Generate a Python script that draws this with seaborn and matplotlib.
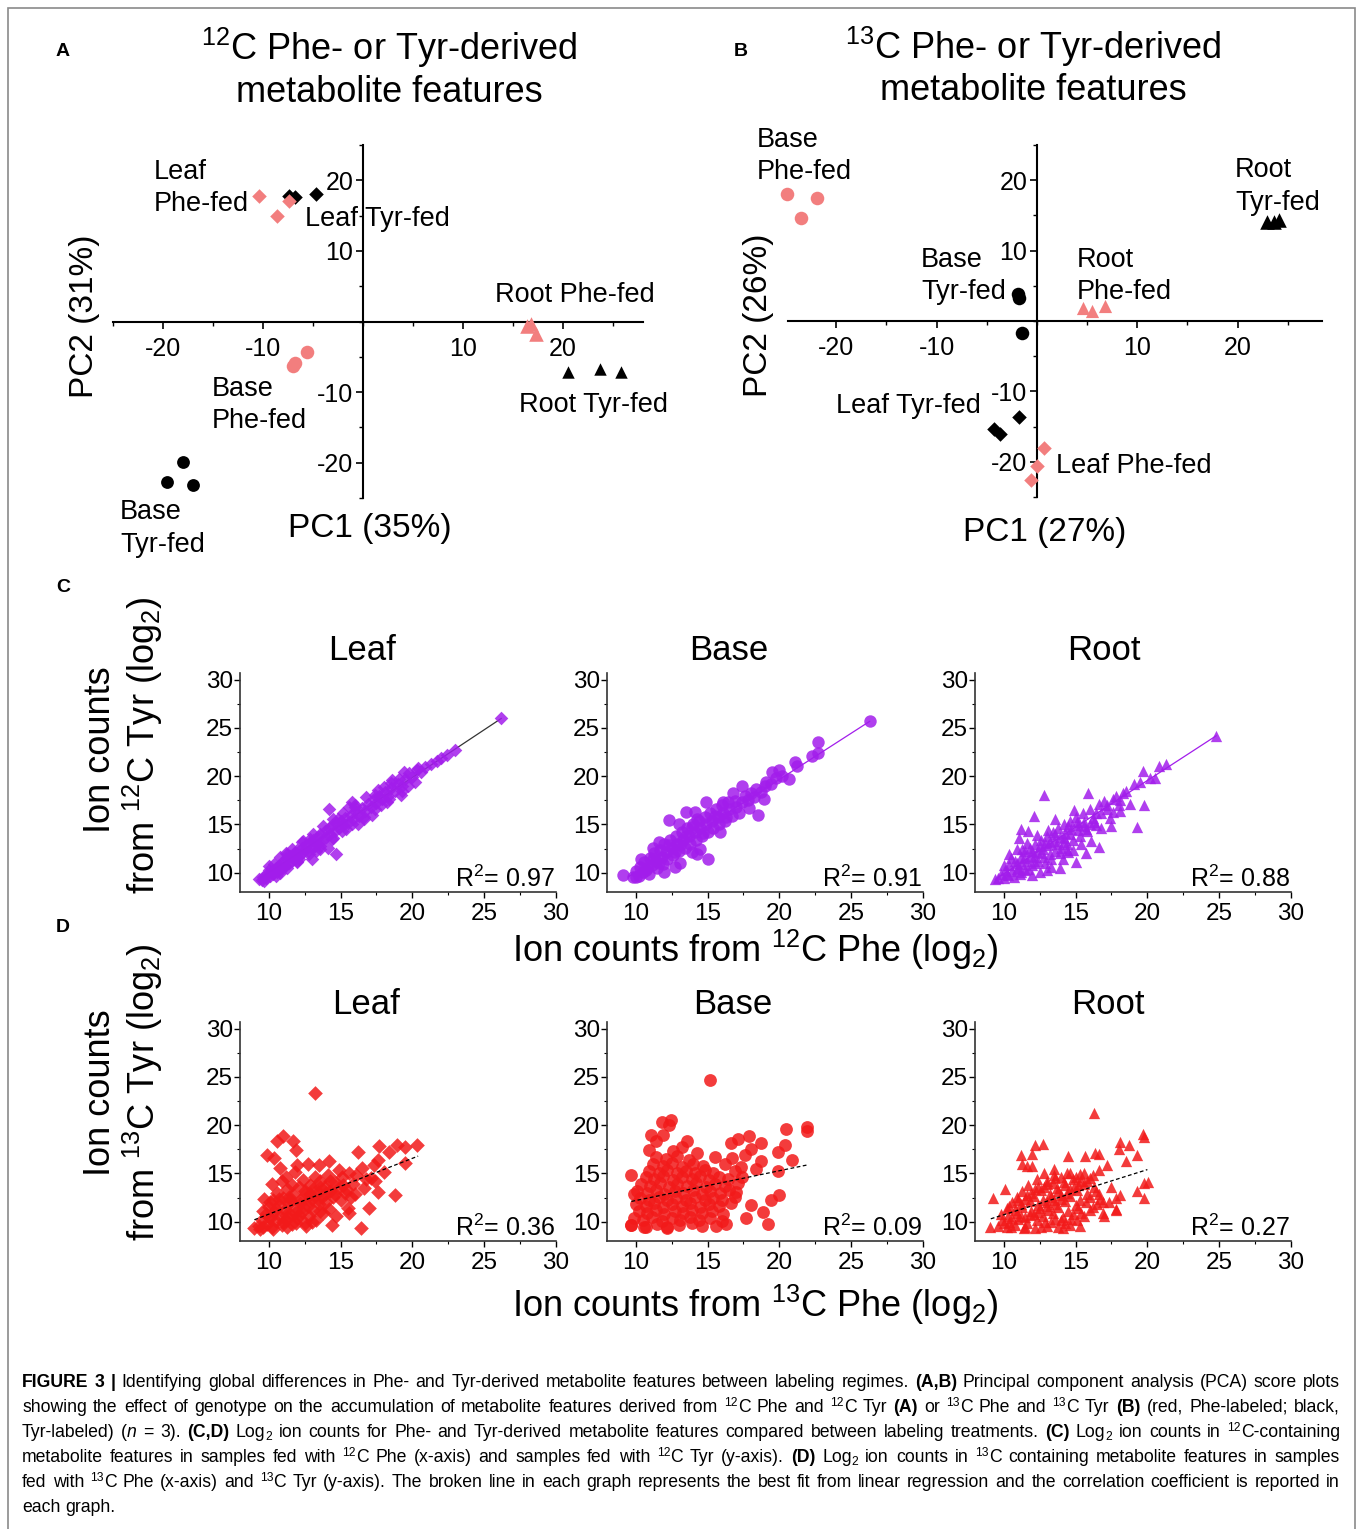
import matplotlib
matplotlib.use("Agg")
import matplotlib.pyplot as plt
import pandas as pd
import seaborn as sns
from matplotlib.patches import Rectangle
from matplotlib.ticker import MultipleLocator

sns.set_style("white")
plt.rcParams["font.family"] = ["Liberation Sans", "DejaVu Sans"]
plt.rcParams["axes.unicode_minus"] = False
plt.rcParams["mathtext.fontset"] = "custom"
plt.rcParams["mathtext.rm"] = "Liberation Sans"
plt.rcParams["mathtext.it"] = "Liberation Sans:italic"
plt.rcParams["mathtext.bf"] = "Liberation Sans:bold"
plt.rcParams.update({"text.color": "black", "xtick.color": "black", "ytick.color": "black",
                     "axes.edgecolor": "black", "xtick.bottom": True, "ytick.left": True})

# ---- PCA scores, panel A (12C) ----
a_leaf_phe = [(-10.4, 17.8), (-8.6, 15.0), (-7.4, 17.0)]
a_leaf_tyr = [(-7.4, 17.8), (-6.8, 17.7), (-4.7, 18.0)]
a_base_phe = [(-5.6, -4.3), (-7.0, -6.3), (-6.8, -5.9)]
a_base_tyr = [(-18.0, -19.9), (-19.65, -22.7), (-17.0, -23.2)]
a_root_phe = [(16.4, -0.6), (16.8, -0.4), (17.3, -1.7)]
a_root_tyr = [(20.5, -7.1), (23.7, -6.7), (25.8, -7.2)]

# ---- PCA scores, panel B (13C) ----
b_leaf_phe = [(0.66, -18.1), (0.03, -20.6), (-0.6, -22.6)]
b_leaf_tyr = [(-4.3, -15.3), (-3.7, -16.1), (-1.75, -13.7)]
b_base_phe = [(-24.9, 18.0), (-21.9, 17.5), (-23.5, 14.6)]
b_base_tyr = [(-1.9, 3.8), (-1.8, 3.3), (-1.5, -1.7)]
b_root_phe = [(4.6, 1.9), (5.5, 1.4), (6.8, 2.1)]
b_root_tyr = [(22.9, 14.1), (23.6, 14.0), (24.1, 14.3)]

# ---- panel C: 12C Phe (x) vs 12C Tyr (y), log2 ion counts ----
leaf12 = [(9.3, 9.3), (9.5, 9.2), (9.6, 9.6), (9.8, 9.4), (9.9, 9.9), (10.1, 9.7), (10.2, 10.2), (10.3, 9.9),
          (10.5, 10.5), (10.6, 10.1), (10.7, 10.8), (10.9, 10.4), (11.0, 11.1), (11.1, 10.7), (11.2, 11.5),
          (11.4, 11.0), (11.5, 11.7), (11.6, 11.2), (11.8, 12.0), (11.9, 11.5), (12.0, 12.4), (12.2, 11.8),
          (12.3, 12.6), (12.4, 12.1), (12.6, 12.9), (12.7, 12.3), (12.8, 13.1), (13.0, 12.6), (13.1, 13.4),
          (13.2, 12.8), (13.4, 13.7), (13.5, 13.1), (13.6, 14.0), (13.8, 13.4), (13.9, 14.3), (14.0, 13.7),
          (14.2, 14.6), (14.3, 14.0), (14.4, 14.9), (14.6, 14.3), (14.7, 15.2), (14.9, 14.6), (15.0, 15.4),
          (15.2, 14.9), (15.3, 15.7), (15.5, 15.2), (15.7, 16.0), (15.9, 15.6), (16.1, 16.3), (16.3, 15.9),
          (16.5, 16.7), (16.7, 16.4), (16.9, 17.1), (17.1, 16.8), (17.3, 17.6), (17.5, 17.2), (17.7, 18.0),
          (17.9, 17.6), (18.1, 18.4), (18.3, 18.0), (18.5, 18.8), (18.8, 18.5), (19.0, 19.2), (19.3, 19.0),
          (19.5, 19.7), (19.8, 20.3), (20.0, 19.9), (20.3, 20.6), (20.6, 20.4), (20.9, 21.0), (21.3, 21.3),
          (21.7, 21.6), (22.0, 21.9), (22.4, 22.2), (23.0, 22.7), (26.2, 26.0), (14.2, 16.6), (14.7, 11.9),
          (13.0, 11.4), (14.1, 12.6), (19.7, 19.0), (18.5, 19.3), (17.2, 16.0), (12.4, 13.3), (11.2, 12.0),
          (15.6, 16.8), (16.2, 15.1), (19.2, 18.1), (18.0, 18.9), (15.8, 17.3), (10.4, 10.9), (13.6, 12.5),
          (12.0, 11.1), (17.8, 17.0), (20.4, 20.9), (10.0, 10.3), (10.8, 10.0), (11.3, 11.9), (12.1, 11.4),
          (12.9, 13.5), (13.3, 12.3), (14.5, 13.6), (14.8, 15.6), (15.4, 14.5), (16.0, 16.8), (16.6, 15.6),
          (17.4, 18.1), (18.2, 17.3), (19.1, 19.7), (9.7, 9.1), (10.0, 10.7), (10.8, 11.6), (11.6, 12.5),
          (12.3, 13.2), (13.1, 14.0), (13.8, 14.8), (14.5, 15.6), (15.2, 16.2), (16.0, 17.0), (16.8, 17.8),
          (17.6, 18.6), (18.6, 19.6), (19.4, 20.4), (10.5, 9.7), (11.3, 10.5), (12.0, 11.2), (12.8, 11.9),
          (13.6, 12.8), (14.4, 13.5), (15.1, 14.3), (15.8, 15.0), (16.6, 15.8), (17.4, 16.6), (18.4, 17.6),
          (19.3, 18.5), (20.2, 19.4)]
base12 = [(9.1, 9.8), (9.8, 9.6), (10.0, 10.2), (10.2, 9.7), (10.3, 10.6), (10.5, 10.1), (10.6, 11.1),
          (10.8, 10.5), (10.9, 9.9), (11.0, 11.5), (11.1, 10.8), (11.3, 12.0), (11.4, 11.2), (11.5, 10.5),
          (11.7, 12.4), (11.8, 11.6), (11.9, 10.9), (12.0, 13.0), (12.1, 12.1), (12.2, 11.4), (12.4, 13.4),
          (12.5, 12.6), (12.6, 11.8), (12.7, 10.6), (12.8, 13.8), (12.9, 13.0), (13.0, 12.2), (13.2, 14.2),
          (13.3, 13.4), (13.4, 12.6), (13.6, 14.6), (13.7, 13.8), (13.8, 13.0), (13.9, 12.1), (14.0, 15.0),
          (14.1, 14.2), (14.2, 13.4), (14.4, 15.4), (14.5, 14.6), (14.5, 12.5), (14.6, 13.8), (14.8, 15.8),
          (14.9, 15.0), (15.0, 14.2), (15.0, 11.4), (15.2, 16.2), (15.3, 15.4), (15.4, 14.6), (15.6, 16.6),
          (15.7, 15.8), (15.8, 15.0), (16.0, 17.0), (16.1, 16.2), (16.2, 15.4), (16.4, 17.3), (16.5, 16.6),
          (16.7, 15.9), (16.9, 17.4), (17.0, 16.8), (17.2, 16.2), (17.4, 17.3), (17.4, 19.0), (17.6, 17.9),
          (17.8, 17.5), (18.0, 18.3), (18.2, 17.8), (18.4, 18.7), (18.5, 16.0), (18.7, 18.4), (19.0, 19.0),
          (19.1, 19.4), (19.4, 19.2), (19.5, 20.4), (19.8, 19.8), (20.0, 20.6), (20.2, 20.0), (20.7, 19.7),
          (21.1, 21.5), (21.2, 21.1), (22.3, 22.1), (22.7, 22.4), (22.7, 23.5), (26.3, 25.7), (12.3, 15.5),
          (13.5, 16.3), (14.1, 16.3), (14.9, 17.3), (16.1, 17.3), (13.1, 11.0), (14.3, 11.9), (11.2, 12.6),
          (10.4, 11.4), (17.9, 16.7), (18.9, 17.6), (15.9, 14.2), (13.0, 15.1), (16.8, 18.3), (12.0, 10.1),
          (10.0, 9.6), (11.6, 13.2), (10.7, 10.3), (11.6, 11.0), (12.3, 12.9), (13.1, 12.9), (13.9, 14.7),
          (14.7, 14.1), (15.5, 15.9), (16.3, 15.8), (12.7, 12.1), (11.2, 11.4), (13.5, 13.8), (14.3, 15.6)]
root12 = [(9.4, 9.3), (9.6, 9.5), (9.8, 9.9), (10.0, 9.4), (10.1, 10.3), (10.3, 9.8), (10.4, 10.8),
          (10.6, 10.2), (10.7, 9.6), (10.8, 11.2), (11.0, 10.5), (11.1, 9.9), (11.2, 11.6), (11.3, 10.9),
          (11.5, 12.2), (11.6, 11.2), (11.7, 10.4), (11.8, 12.6), (11.9, 11.7), (12.0, 10.8), (12.2, 13.0),
          (12.3, 12.1), (12.4, 11.2), (12.5, 10.1), (12.6, 13.4), (12.7, 12.5), (12.8, 11.6), (13.0, 13.8),
          (13.1, 12.9), (13.2, 11.9), (13.3, 10.6), (13.4, 14.2), (13.5, 13.3), (13.6, 12.3), (13.8, 14.6),
          (13.9, 13.7), (14.0, 12.6), (14.1, 11.4), (14.2, 15.0), (14.3, 14.1), (14.4, 13.0), (14.6, 15.4),
          (14.7, 14.5), (14.8, 13.4), (15.0, 11.15), (15.0, 15.8), (15.2, 14.9), (15.3, 13.8), (15.5, 16.2),
          (15.6, 15.3), (15.8, 14.3), (15.9, 18.3), (16.0, 16.6), (16.2, 15.7), (16.4, 14.9), (16.6, 17.1),
          (16.6, 12.7), (16.8, 16.2), (17.0, 17.4), (17.2, 16.6), (17.4, 15.7), (17.6, 17.6), (17.8, 18.0),
          (18.0, 17.0), (18.3, 18.3), (18.5, 18.5), (18.8, 17.1), (19.1, 19.2), (19.3, 14.75), (19.5, 19.4),
          (19.7, 20.5), (19.8, 17.0), (20.2, 19.8), (20.5, 19.8), (20.8, 21.1), (21.3, 21.3), (24.8, 24.2),
          (12.8, 18.1), (12.1, 15.9), (11.2, 14.5), (11.7, 14.3), (11.05, 13.6), (10.4, 11.9), (13.6, 15.6),
          (14.9, 16.5), (17.5, 14.8), (16.1, 13.3), (12.3, 13.9), (13.9, 10.5), (15.7, 12.0), (10.9, 12.5),
          (18.1, 16.4), (14.5, 12.1), (12.0, 9.8), (10.2, 9.9), (10.9, 10.4), (11.4, 11.5), (12.1, 11.6),
          (12.6, 12.0), (13.2, 13.2), (13.7, 13.0), (14.2, 13.6), (14.6, 14.0), (15.2, 14.4), (15.6, 14.8),
          (16.3, 15.3), (11.5, 10.3), (12.9, 11.0), (14.4, 12.4), (10.0, 10.8), (10.5, 11.5), (10.9, 11.0),
          (11.3, 12.5), (11.6, 13.1), (12.0, 12.3), (12.2, 11.0), (12.5, 12.8), (12.9, 13.1), (13.1, 14.4),
          (13.3, 11.4), (13.6, 14.0), (13.9, 12.0), (14.2, 13.2), (14.5, 14.8), (14.8, 12.4), (15.1, 15.3),
          (15.4, 13.0), (15.7, 14.5), (16.0, 15.0), (16.4, 16.2), (16.8, 14.6), (17.2, 17.0), (17.6, 16.3),
          (18.1, 17.5), (13.0, 10.3), (11.2, 10.1)]

# ---- panel D: 13C Phe (x) vs 13C Tyr (y), log2 ion counts ----
leaf13 = [(9.0, 9.3), (9.3, 9.6), (9.5, 10.2), (9.6, 9.4), (9.8, 10.8), (9.9, 9.8), (10.0, 11.5), (10.1, 10.4),
          (10.2, 9.5), (10.3, 12.2), (10.4, 11.0), (10.5, 10.1), (10.6, 13.0), (10.7, 11.7), (10.8, 10.6),
          (10.9, 9.7), (11.0, 12.5), (11.1, 11.2), (11.2, 14.6), (11.2, 10.2), (11.3, 13.4), (11.4, 11.9),
          (11.5, 10.8), (11.6, 9.8), (11.7, 12.8), (11.8, 15.2), (11.9, 11.4), (12.0, 10.4), (12.1, 13.6),
          (12.2, 12.2), (12.3, 11.0), (12.4, 14.3), (12.5, 9.9), (12.6, 12.9), (12.7, 11.6), (12.8, 10.6),
          (12.9, 13.8), (13.0, 12.4), (13.1, 11.2), (13.2, 14.6), (13.3, 10.2), (13.4, 13.1), (13.5, 11.8),
          (13.6, 14.2), (13.7, 12.6), (13.8, 10.9), (13.9, 13.6), (14.0, 12.0), (14.1, 14.8), (14.2, 11.3),
          (14.3, 13.2), (14.4, 9.7), (14.5, 12.6), (14.6, 14.1), (14.7, 10.6), (14.8, 13.5), (15.0, 12.2),
          (15.1, 14.6), (15.3, 13.0), (15.5, 11.4), (15.6, 15.1), (15.6, 10.9), (15.7, 12.6), (15.9, 13.9),
          (16.1, 14.8), (16.2, 17.2), (16.4, 9.3), (16.5, 15.6), (16.8, 14.4), (17.0, 11.4), (17.1, 14.5),
          (17.3, 15.9), (17.6, 16.4), (17.7, 17.8), (18.0, 15.2), (18.4, 17.2), (18.8, 12.8), (18.95, 17.9),
          (19.5, 17.7), (19.5, 16.1), (20.3, 17.9), (13.2, 23.3), (11.0, 18.9), (10.6, 18.35), (11.7, 18.35),
          (11.9, 17.4), (9.9, 16.9), (10.4, 16.6), (12.7, 16.0), (14.2, 16.3), (13.5, 15.9), (16.0, 12.9),
          (10.8, 15.6), (12.0, 15.9), (10.2, 13.9), (9.7, 12.4), (11.3, 9.5), (12.6, 9.6), (14.9, 15.4),
          (17.6, 13.1), (10.5, 11.3), (11.0, 10.0), (11.8, 10.9), (12.4, 11.5), (13.0, 10.0), (10.0, 10.5),
          (11.4, 12.6), (12.9, 12.9), (13.6, 11.1), (14.6, 12.9), (9.4, 9.2), (10.3, 9.2), (11.9, 9.9),
          (15.2, 13.8), (16.6, 13.5), (17.4, 14.2), (10.9, 14.2), (9.6, 11.1), (10.7, 12.4), (11.5, 12.2),
          (12.2, 11.9), (12.8, 12.2), (13.4, 12.4), (14.0, 13.0), (11.6, 13.8), (12.5, 13.2), (13.1, 13.4),
          (10.1, 12.0), (11.2, 10.7), (12.1, 10.7), (13.6, 13.6), (14.3, 14.2), (15.4, 13.4)]
base13 = [(9.7, 9.7), (10.6, 9.5), (11.5, 9.8), (12.2, 9.4), (13.0, 9.7), (13.9, 9.9), (14.6, 9.6),
          (9.9, 10.4), (10.5, 10.2), (11.1, 10.5), (11.8, 10.1), (12.5, 10.4), (13.1, 10.2), (13.8, 10.5),
          (14.4, 10.2), (15.2, 10.4), (16.0, 10.1), (10.2, 11.1), (10.8, 10.9), (11.4, 11.2), (12.0, 10.8),
          (12.7, 11.1), (13.3, 10.9), (13.9, 11.2), (14.6, 10.9), (15.3, 11.1), (16.1, 10.8), (10.0, 11.8),
          (10.7, 11.6), (11.3, 11.9), (11.9, 11.5), (12.5, 11.8), (13.2, 11.6), (13.8, 11.9), (14.5, 11.5),
          (15.1, 11.8), (15.8, 11.6), (16.6, 11.9), (10.3, 12.5), (10.9, 12.3), (11.6, 12.6), (12.2, 12.2),
          (12.8, 12.5), (13.5, 12.3), (14.1, 12.6), (14.8, 12.2), (15.4, 12.5), (16.0, 12.3), (16.9, 12.6),
          (10.1, 13.2), (10.8, 13.0), (11.4, 13.3), (12.0, 12.9), (12.7, 13.2), (13.3, 13.0), (14.0, 13.3),
          (14.6, 12.9), (15.2, 13.2), (15.9, 13.0), (16.5, 13.3), (10.4, 13.9), (11.0, 13.7), (11.7, 14.0),
          (12.3, 13.6), (12.9, 13.9), (13.6, 13.7), (14.2, 14.0), (14.9, 13.6), (15.5, 13.9), (16.2, 13.7),
          (17.1, 14.0), (10.7, 14.6), (11.3, 14.4), (11.9, 14.7), (12.6, 14.3), (13.2, 14.6), (13.9, 14.4),
          (14.5, 14.7), (15.1, 14.3), (15.8, 14.6), (16.4, 14.4), (10.9, 15.3), (11.6, 15.1), (12.2, 15.4),
          (12.9, 15.0), (13.5, 15.3), (14.1, 15.1), (14.8, 15.4), (15.4, 15.0), (16.9, 15.3), (11.2, 16.0),
          (11.9, 15.8), (12.5, 16.1), (13.2, 15.7), (14.0, 16.0), (14.7, 15.8), (16.2, 16.0), (17.3, 15.7),
          (11.4, 16.7), (12.1, 16.5), (12.9, 16.8), (13.7, 16.4), (16.7, 16.6), (15.2, 24.7), (11.8, 20.35),
          (12.45, 20.5), (12.3, 20.0), (11.05, 19.0), (11.9, 19.0), (11.4, 18.4), (13.6, 18.4), (13.2, 17.7),
          (16.6, 18.2), (17.1, 18.6), (17.9, 18.9), (18.7, 18.2), (18.0, 17.5), (19.9, 17.2), (20.4, 17.9),
          (20.45, 19.6), (21.9, 19.8), (21.9, 19.4), (20.85, 16.4), (19.9, 15.3), (18.7, 16.3), (20.0, 12.8),
          (19.4, 12.3), (18.85, 11.05), (19.2, 9.75), (17.65, 10.35), (18.0, 11.75), (10.7, 9.5), (9.65, 9.65),
          (12.2, 9.3), (17.4, 14.6), (17.0, 13.1), (18.4, 15.5), (10.9, 17.4), (12.6, 17.3), (14.3, 17.1),
          (15.5, 16.7), (17.6, 16.9), (16.3, 9.8), (15.6, 9.6), (9.9, 12.9), (9.7, 14.8)]
root13 = [(9.6, 9.6), (10.2, 9.4), (10.8, 9.7), (11.5, 9.5), (12.2, 9.3), (13.0, 9.6), (13.8, 9.4), (14.6, 9.7),
          (9.9, 10.2), (10.4, 10.0), (11.0, 10.3), (11.6, 9.9), (12.3, 10.2), (12.9, 10.0), (13.6, 10.3),
          (14.3, 9.9), (15.1, 10.2), (9.8, 10.8), (10.3, 10.6), (10.9, 10.9), (11.5, 10.5), (12.1, 10.8),
          (12.7, 10.6), (13.4, 10.9), (14.1, 10.5), (14.8, 10.8), (15.6, 10.6), (16.9, 10.9), (10.2, 11.4),
          (10.8, 11.2), (11.3, 11.5), (11.9, 11.1), (12.5, 11.4), (13.1, 11.2), (13.8, 11.5), (14.5, 11.1),
          (15.2, 11.4), (16.0, 11.2), (17.8, 11.3), (10.6, 12.0), (11.2, 11.8), (11.8, 12.1), (12.4, 11.7),
          (13.0, 12.0), (13.6, 11.8), (14.3, 12.1), (15.0, 11.7), (15.7, 12.0), (16.5, 11.8), (10.9, 12.6),
          (11.5, 12.4), (12.1, 12.7), (12.7, 12.3), (13.3, 12.6), (14.0, 12.4), (14.6, 12.7), (15.3, 12.3),
          (16.0, 12.6), (16.7, 12.4), (17.8, 12.5), (11.3, 13.2), (11.9, 13.0), (12.6, 13.3), (13.2, 12.9),
          (13.8, 13.2), (14.4, 13.0), (15.1, 13.3), (15.8, 12.9), (16.4, 13.2), (11.7, 13.8), (12.4, 13.6),
          (13.0, 13.9), (13.7, 13.5), (14.3, 13.8), (14.9, 13.6), (15.6, 13.9), (16.3, 13.6), (12.3, 14.4),
          (13.0, 14.2), (13.6, 14.5), (14.2, 14.1), (14.8, 14.4), (15.4, 14.2), (16.0, 14.5), (12.8, 15.0),
          (13.5, 14.8), (14.4, 15.1), (15.3, 14.9), (16.3, 21.3), (19.7, 19.1), (19.8, 18.8), (18.1, 18.3),
          (18.7, 17.9), (18.0, 17.5), (19.3, 16.9), (16.35, 17.1), (16.6, 17.0), (15.65, 16.85), (12.0, 17.0),
          (12.7, 18.1), (12.2, 17.95), (11.2, 16.9), (11.3, 16.0), (14.5, 16.85), (19.8, 14.0), (20.05, 14.1),
          (19.3, 13.2), (19.75, 12.5), (17.8, 11.25), (16.9, 12.0), (9.25, 12.5), (9.05, 9.45), (10.1, 13.4),
          (11.6, 15.8), (12.0, 15.8), (13.5, 15.5), (17.2, 15.9), (18.5, 16.3), (17.0, 10.6), (15.3, 9.6),
          (14.1, 9.3), (10.0, 9.9), (10.6, 10.4), (11.2, 10.6), (11.8, 10.7), (12.4, 11.0), (13.0, 11.6),
          (13.5, 12.2), (14.0, 12.8), (14.6, 13.4), (15.2, 13.8), (15.8, 14.2), (10.4, 11.6), (11.0, 12.2),
          (11.6, 12.8), (12.2, 13.4), (12.8, 13.6), (13.4, 14.0), (14.0, 14.6), (14.6, 15.0), (15.0, 14.6),
          (15.6, 15.1), (16.2, 14.8), (16.6, 15.4), (10.5, 9.4), (11.4, 9.3), (12.6, 9.5), (13.3, 10.0),
          (14.0, 10.2), (14.7, 10.3), (15.4, 10.9), (16.2, 11.5), (16.6, 12.9), (17.3, 12.0), (17.5, 13.6),
          (18.1, 12.8)]

# regression lines (end points) and R2 values
fit12_x = [[9.3, 26.2], [9.5, 26.3], [9.4, 24.8]]
fit12_y = [[9.3, 26.0], [9.6, 25.7], [9.3, 24.2]]
fit13_x = [[9.0, 20.4], [9.7, 22.0], [9.1, 20.0]]
fit13_y = [[10.2, 16.8], [12.1, 15.9], [10.3, 15.4]]
r2_12 = ["0.97", "0.91", "0.88"]
r2_13 = ["0.36", "0.09", "0.27"]
tissues = ["Leaf", "Base", "Root"]

W, H = 1358, 1529
fig = plt.figure(figsize=(W / 100, H / 100), dpi=100)
fig.patch.set_facecolor("white")

PINK = "#F27E7E"
PURPLE = "#A21DEB"
RED = "#F21A1A"


def box(l, t, r, b):
    return [l / W, 1 - b / H, (r - l) / W, (b - t) / H]


def put(x, y, s, **kw):
    kw.setdefault("va", "center")
    kw.setdefault("ha", "center")
    return fig.text(x / W, 1 - y / H, s, **kw)


def pca_panel(rect, xlim, groups):
    ax = fig.add_axes(rect)
    ax.patch.set_alpha(0)
    for pts, mk, col, sz in groups:
        df = pd.DataFrame(pts, columns=["pc1", "pc2"])
        sns.scatterplot(data=df, x="pc1", y="pc2", marker=mk, color=col, s=sz,
                        linewidth=0, ax=ax, zorder=3, clip_on=False)
    ax.set(xlim=xlim, ylim=(-25, 25), xlabel="", ylabel="")
    ax.spines[["top", "right"]].set_visible(False)
    for side in ("left", "bottom"):
        ax.spines[side].set_position(("data", 0))
        ax.spines[side].set_linewidth(1.5)
    ax.set_xticks([-20, -10, 10, 20])
    ax.set_yticks([-20, -10, 10, 20])
    ax.xaxis.set_minor_locator(MultipleLocator(5))
    ax.yaxis.set_minor_locator(MultipleLocator(5))
    ax.tick_params(which="major", length=5, width=1.2, labelsize=18, direction="out")
    ax.tick_params(axis="x", which="major", pad=6)
    ax.tick_params(axis="y", which="major", pad=2)
    ax.tick_params(which="minor", length=3, width=1.0, direction="out")
    return ax


def scatter_panel(rect, pts, mk, col, sz, fx, fy, line_col, dashed, r2):
    ax = fig.add_axes(rect)
    ax.patch.set_alpha(0)
    df = pd.DataFrame(pts, columns=["phe", "tyr"])
    sns.scatterplot(data=df, x="phe", y="tyr", marker=mk, color=col, s=sz,
                    linewidth=0, alpha=0.85, ax=ax, zorder=2)
    # solid fits sit under the cloud, broken fits are drawn over it
    sns.lineplot(x=fx, y=fy, color=line_col, linewidth=0.9, ax=ax, zorder=3 if dashed else 1)
    if dashed:
        ax.lines[-1].set_linestyle((0, (3, 2)))
    ax.set(xlim=(8, 30), ylim=(8, 30.7), xlabel="", ylabel="")
    ax.set_xticks([10, 15, 20, 25, 30])
    ax.set_yticks([10, 15, 20, 25, 30])
    ax.xaxis.set_minor_locator(MultipleLocator(2.5))
    ax.yaxis.set_minor_locator(MultipleLocator(2.5))
    ax.spines[["top", "right"]].set_visible(False)
    for side in ("left", "bottom"):
        ax.spines[side].set_linewidth(1.2)
        ax.spines[side].set_color("#333333")
    ax.tick_params(which="major", length=4, width=1.0, labelsize=17.5, direction="out")
    ax.tick_params(axis="x", which="major", pad=4)
    ax.tick_params(axis="y", which="major", pad=1)
    ax.tick_params(which="minor", length=2.5, width=0.8, direction="out")
    ax.text(29.9, 8.5, "R$^2$= " + r2, ha="right", va="baseline", fontsize=18)
    return ax


# ---- A ----
pca_panel(box(113, 145, 643, 498), (-25, 28), [
    (a_leaf_tyr, "D", "black", 55), (a_leaf_phe, "D", PINK, 55),
    (a_base_tyr, "o", "black", 85), (a_base_phe, "o", PINK, 95),
    (a_root_tyr, "^", "black", 80), (a_root_phe, "^", PINK, 110)])
# ---- B ----
pca_panel(box(788, 145, 1322, 497), (-24.8, 28.4), [
    (b_leaf_tyr, "D", "black", 55), (b_leaf_phe, "D", PINK, 55),
    (b_base_tyr, "o", "black", 95), (b_base_phe, "o", PINK, 95),
    (b_root_tyr, "^", "black", 110), (b_root_phe, "^", PINK, 90)])

lab = dict(fontsize=19.5, ha="left")
for x, y, s in [(154, 172, "Leaf"), (154, 204, "Phe-fed"), (305, 219, "Leaf Tyr-fed"),
                (495, 295, "Root Phe-fed"), (212, 389, "Base"), (212, 421, "Phe-fed"),
                (519, 405, "Root Tyr-fed"), (120, 512, "Base"), (120, 545, "Tyr-fed"),
                (757, 140, "Base"), (757, 172, "Phe-fed"), (1235, 170, "Root"), (1235, 203, "Tyr-fed"),
                (921, 260, "Base"), (921, 292, "Tyr-fed"), (1077, 260, "Root"), (1077, 292, "Phe-fed"),
                (836, 406, "Leaf Tyr-fed"), (1056, 466, "Leaf Phe-fed")]:
    put(x, y, s, **lab)

put(389, 48, "$^{12}$C Phe- or Tyr-derived", fontsize=26)
put(389, 93, "metabolite features", fontsize=26)
put(1033, 47, "$^{13}$C Phe- or Tyr-derived", fontsize=26)
put(1033, 91, "metabolite features", fontsize=26)
put(85, 316, "PC2 (31%)", fontsize=24, rotation=90)
put(370, 528, "PC1 (35%)", fontsize=24)
put(758, 315, "PC2 (26%)", fontsize=24, rotation=90)
put(1045, 533, "PC1 (27%)", fontsize=24)

# ---- C and D ----
cols = [(240, 556), (607, 923), (975, 1291)]
title_x = [362, 729, 1104]
markers = [("D", 48, 56), ("o", 80, 85), ("^", 66, 66)]
data12 = [leaf12, base12, root12]
data13 = [leaf13, base13, root13]
line12 = ["#333333", PURPLE, PURPLE]
for i, (l, r) in enumerate(cols):
    mk, s12, s13 = markers[i]
    scatter_panel(box(l, 673, r, 892), data12[i], mk, PURPLE, s12,
                  fit12_x[i], fit12_y[i], line12[i], False, r2_12[i])
    scatter_panel(box(l, 1022, r, 1241), data13[i], mk, RED, s13,
                  fit13_x[i], fit13_y[i], "black", True, r2_13[i])
    put(title_x[i], 651, tissues[i], fontsize=25)
    put(title_x[i] + 4, 1004, tissues[i], fontsize=25)

put(100, 750, "Ion counts", fontsize=26, rotation=90)
put(143, 745, "from $^{12}$C Tyr (log$_2$)", fontsize=26, rotation=90)
put(100, 1093, "Ion counts", fontsize=26, rotation=90)
put(143, 1092, "from $^{13}$C Tyr (log$_2$)", fontsize=26, rotation=90)
put(755, 950, "Ion counts from $^{12}$C Phe (log$_2$)", fontsize=26)
put(755, 1305, "Ion counts from $^{13}$C Phe (log$_2$)", fontsize=26)

for letter, x, y in [("A", 63, 51), ("B", 741, 51), ("C", 63, 587), ("D", 63, 927)]:
    put(x, y, letter, fontsize=14, fontweight="bold")

# ---- caption ----
caption = [
    [("FIGURE 3 | ", "b"),
     ("Identifying global differences in Phe- and Tyr-derived metabolite features between labeling regimes. ", "n"),
     ("(A,B)", "b"), (" Principal component analysis (PCA) score plots", "n")],
    [("showing the effect of genotype on the accumulation of metabolite features derived from ", "n"),
     ("12", "sup"), ("C Phe and ", "n"), ("12", "sup"), ("C Tyr ", "n"), ("(A)", "b"), (" or ", "n"),
     ("13", "sup"), ("C Phe and ", "n"), ("13", "sup"), ("C Tyr ", "n"), ("(B)", "b"),
     (" (red, Phe-labeled; black,", "n")],
    [("Tyr-labeled) (", "n"), ("n", "i"), (" = 3). ", "n"), ("(C,D)", "b"), (" Log", "n"), ("2", "sub"),
     (" ion counts for Phe- and Tyr-derived metabolite features compared between labeling treatments. ", "n"),
     ("(C)", "b"), (" Log", "n"), ("2", "sub"), (" ion counts in ", "n"), ("12", "sup"), ("C-containing", "n")],
    [("metabolite features in samples fed with ", "n"), ("12", "sup"),
     ("C Phe (x-axis) and samples fed with ", "n"), ("12", "sup"), ("C Tyr (y-axis). ", "n"), ("(D)", "b"),
     (" Log", "n"), ("2", "sub"), (" ion counts in ", "n"), ("13", "sup"),
     ("C containing metabolite features in samples", "n")],
    [("fed with ", "n"), ("13", "sup"), ("C Phe (x-axis) and ", "n"), ("13", "sup"),
     ("C Tyr (y-axis). The broken line in each graph represents the best fit from linear regression "
      "and the correlation coefficient is reported in", "n")],
    [("each graph.", "n")],
]


def tokens(segs):
    out, gap = [], False
    for text, st in segs:
        for k, part in enumerate(text.split(" ")):
            if k > 0:
                gap = True
            if part:
                out.append((part, st, gap))
                gap = False
    return out


renderer = fig.canvas.get_renderer()


def style(st, fs):
    if st == "b":
        return dict(fontsize=fs, fontweight="bold")
    if st == "i":
        return dict(fontsize=fs, fontstyle="italic")
    if st in ("sup", "sub"):
        return dict(fontsize=fs * 0.68)
    return dict(fontsize=fs)


def width(s, **kw):
    t = fig.text(0, 0, s, **kw)
    w = t.get_window_extent(renderer).width
    t.remove()
    return w


line_toks = [tokens(l) for l in caption]
left, right = 22, 1340


def natural(fs):
    sw = width("a a", fontsize=fs) - width("aa", fontsize=fs)
    res = []
    for toks in line_toks:
        ws = [width(t, **style(st, fs)) for t, st, g in toks]
        ng = sum(1 for t in toks if t[2])
        res.append((ws, ng, sum(ws) + ng * sw))
    return sw, res


fs0 = 12.0
sw, res = natural(fs0)
cap_fs = fs0 * (right - left) * 0.985 / max(r[2] for r in res)
sw, res = natural(cap_fs)
fs_px = cap_fs * 100 / 72
for i, toks in enumerate(line_toks):
    ws, ng, nat = res[i]
    extra = (right - left - nat) / ng if (i < len(line_toks) - 1 and ng) else 0
    x = left
    base_y = 1387 + 25 * i
    for (t, st, g), w in zip(toks, ws):
        if g:
            x += sw + extra
        y = base_y
        if st == "sup":
            y -= 0.36 * fs_px
        elif st == "sub":
            y += 0.18 * fs_px
        fig.text(x / W, 1 - y / H, t, ha="left", va="baseline", **style(st, cap_fs))
        x += w

fig.add_artist(Rectangle((8 / W, -0.01), (1355 - 8) / W, 1 - 8 / H + 0.01, transform=fig.transFigure,
                         fill=False, edgecolor="#8a8a8a", linewidth=1.2))

fig.savefig("out.png", dpi=100, facecolor="white")
